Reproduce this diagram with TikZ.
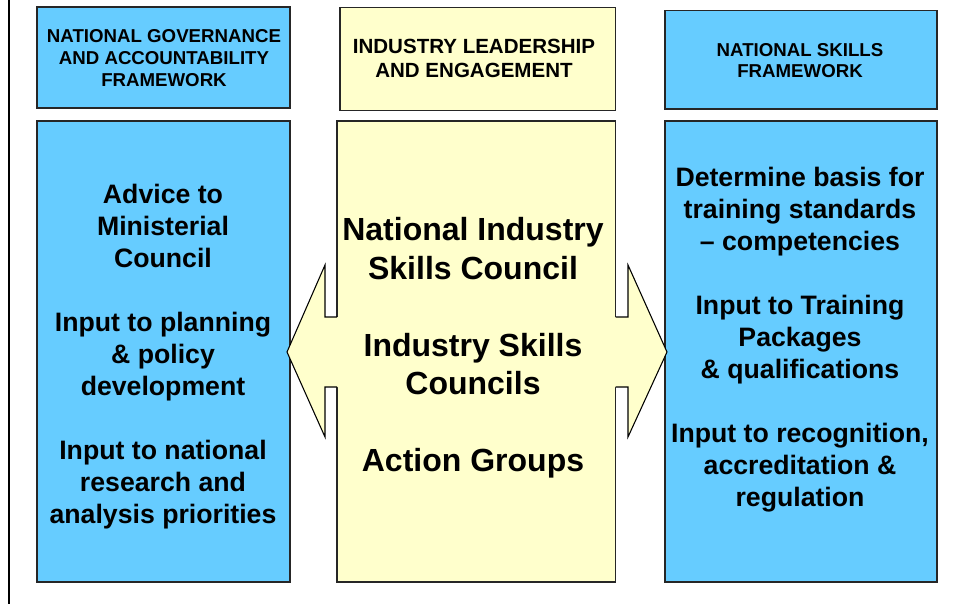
\documentclass[tikz,border=0pt]{standalone}
\usepackage{fontspec}
\setmainfont{Liberation Sans}
\usetikzlibrary{fit}
\definecolor{skyb}{HTML}{66CCFF}
\definecolor{paley}{HTML}{FFFFCC}
\begin{document}
\begin{tikzpicture}[x=0.75pt,y=-0.75pt,
  bluebox/.style={draw=black!85, fill=skyb, line width=0.8pt, inner sep=0pt},
  yelbox/.style={draw=black!85, fill=paley, line width=0.8pt, inner sep=0pt},
  head/.style={align=center, inner sep=0pt, font=\bfseries\fontsize{14}{16.3}\selectfont},
  midhead/.style={align=center, inner sep=0pt, font=\bfseries\fontsize{15.4}{17.5}\selectfont},
  bodytxt/.style={align=center, inner sep=0pt, font=\bfseries\fontsize{20}{24}\selectfont},
  midtxt/.style={align=center, inner sep=0pt, font=\bfseries\fontsize{24}{28.9}\selectfont},
  arrowfill/.style={fill=paley},
  arrowline/.style={draw=black, line width=0.8pt, line join=miter}]
\useasboundingbox (0,0) rectangle (976,604);
% left rule
\coordinate (vt) at (8.5,0);
\coordinate (vb) at (8.5,604);
\draw[line width=1.5pt] (vt) -- (vb);
% header boxes
\node[bluebox, fit={(37,7) (290,108)}] (lh) {};
\node[yelbox, fit={(340,7.5) (615.5,110.5)}] (mh) {};
\node[bluebox, fit={(665,10.5) (937,109)}] (rh) {};
\node[head] (lht) at (164,58) {NATIONAL GOVERNANCE\\AND ACCOUNTABILITY\\FRAMEWORK};
\node[midhead] (mht) at (474,58.5) {INDUSTRY LEADERSHIP\\AND ENGAGEMENT};
\node[head] (rht) at (800,60.5) {NATIONAL SKILLS\\FRAMEWORK};
% big boxes
\node[bluebox, fit={(37,121) (290,582)}] (lb) {};
\node[yelbox, fit={(337,121) (615.5,582)}] (mb) {};
\node[bluebox, fit={(665,121) (937,582)}] (rb) {};
% left arrow
\fill[arrowfill] (338.5,317) -- (325,317) -- (325,265) -- (287,352) -- (325,437) -- (325,387) -- (338.5,387) -- cycle;
\draw[arrowline] (337,317) -- (325,317) -- (325,265) -- (287,352) -- (325,437) -- (325,387) -- (337,387);
% right arrow
\fill[arrowfill] (614,317) -- (628,317) -- (628,265) -- (667,352) -- (628,437) -- (628,387) -- (614,387) -- cycle;
\draw[arrowline] (615.5,317) -- (628,317) -- (628,265) -- (667,352) -- (628,437) -- (628,387) -- (615.5,387);
% texts
\node[bodytxt] (lt) at (163,357) {Advice to\\Ministerial\\Council\\[24pt]Input to planning\\\& policy\\development\\[24pt]Input to national\\research and\\analysis priorities};
\node[midtxt] (mt) at (473,348) {National Industry\\Skills Council\\[28.9pt]Industry Skills\\Councils\\[28.9pt]Action Groups};
\node[bodytxt] (rt) at (800,340) {Determine basis for\\training standards\\– competencies\\[24pt]Input to Training\\Packages\\\& qualifications\\[24pt]Input to recognition,\\accreditation \&\\regulation};
\end{tikzpicture}
\end{document}
